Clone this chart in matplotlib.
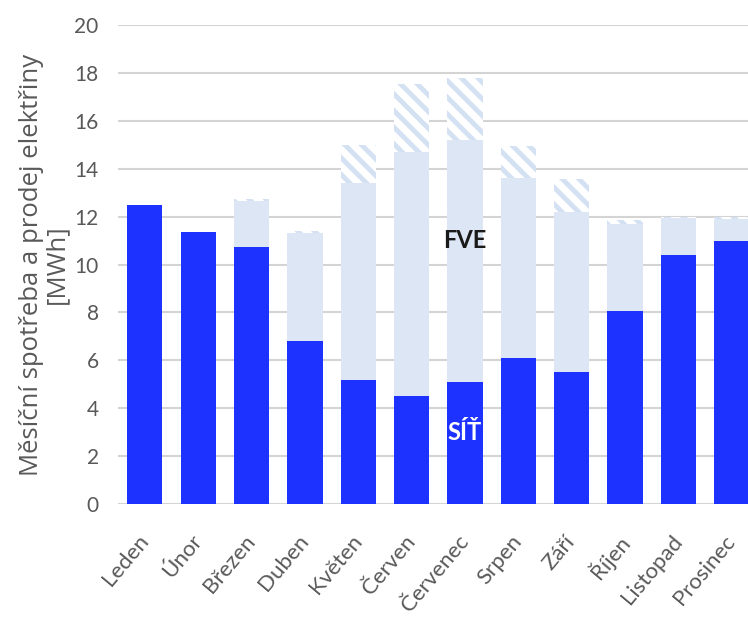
import matplotlib.pyplot as plt
import numpy as np

plt.rcParams['font.family'] = ['Lato', 'DejaVu Sans']
plt.rcParams['hatch.linewidth'] = 3.5

mesice = ['Leden', 'Únor', 'Březen', 'Duben', 'Květen', 'Červen',
          'Červenec', 'Srpen', 'Září', 'Říjen', 'Listopad', 'Prosinec']

# odběr ze sítě, vlastní spotřeba z FVE a prodej přebytků [MWh]
sit = [12.5, 11.35, 10.75, 6.8, 5.2, 4.5, 5.1, 6.1, 5.5, 8.05, 10.4, 11.0]
fve = [0.0, 0.0, 1.9, 4.5, 8.2, 10.2, 10.1, 7.5, 6.7, 3.65, 1.55, 0.9]
prodej = [0.0, 0.0, 0.1, 0.1, 1.6, 2.85, 2.6, 1.35, 1.35, 0.15, 0.05, 0.1]

sit = np.array(sit)
fve = np.array(fve)
prodej = np.array(prodej)
x = np.arange(len(mesice))

fig = plt.figure(figsize=(7.48, 6.21), dpi=100)
ax = fig.add_axes([0.158, 0.188, 0.856, 0.772])

w = 0.66
ax.bar(x, sit, w, color='#1e32ff', zorder=3)
ax.bar(x, fve, w, bottom=sit, color='#dce6f4', zorder=3)
ax.bar(x, prodej, w, bottom=sit + fve, color='white', edgecolor='#d3e1f3',
       linewidth=0, hatch='\\\\', zorder=3)

ax.set_xlim(-0.5, 11.5)
ax.set_ylim(0, 20)
ax.set_yticks(range(0, 21, 2))
ax.grid(axis='y', color='#d4d4d4', linewidth=1.5, zorder=0)
for s in ax.spines.values():
    s.set_visible(False)
ax.tick_params(length=0, colors='#595959', labelsize=16)
ax.tick_params(axis='y', pad=14, labelsize=15)

ax.set_xticks(x)
ax.set_xticklabels(mesice, rotation=50, ha='right', va='center',
                   rotation_mode='anchor')
ax.tick_params(axis='x', pad=24)

ax.set_ylabel('Měsíční spotřeba a prodej elektřiny\n[MWh]', fontsize=18.5,
              color='#595959', family=['Open Sans', 'DejaVu Sans'],
              linespacing=1.0, labelpad=4)

ax.text(6, 11.0, 'FVE', ha='center', va='center', fontsize=17,
        fontweight='bold', color='#1a1a1a', zorder=4)
ax.text(6, 3.0, 'SÍŤ', ha='center', va='center', fontsize=17,
        fontweight='bold', color='white', zorder=4)

fig.savefig('out.png', dpi=100)
